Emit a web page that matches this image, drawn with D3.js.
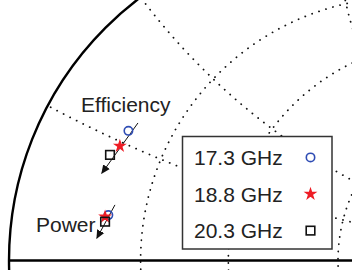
<!DOCTYPE html>
<html><head><meta charset="utf-8">
<script src="https://cdn.jsdelivr.net/npm/d3@7"></script>
<style>
html,body{margin:0;padding:0;background:#fff;overflow:hidden}
svg{display:block}
text{font-family:"Liberation Sans",Arial,Helvetica,sans-serif;fill:#222}
</style></head>
<body>
<script>
// ---- data ----
const resistanceCircles = [0.25, 0.5, 1];
const reactanceCircles = [0.25, 0.5, 1];
const frequencies = ["17.3 GHz", "18.8 GHz", "20.3 GHz"];
const effRe = [-0.637, -0.663, -0.693];
const effIm = [0.394, 0.348, 0.321];
const powRe = [-0.698, -0.708, -0.708];
const powIm = [0.138, 0.133, 0.118];
const effArrowRe = [-0.608, -0.718];
const effArrowIm = [0.418, 0.265];
const powArrowRe = [-0.678, -0.733];
const powArrowIm = [0.169, 0.0675];
const groupLabels = ["Efficiency", "Power"];

const W = 352, H = 270;
const x = d3.scaleLinear().domain([-1, 0]).range([9, 338]);
const y = d3.scaleLinear().domain([0, 1]).range([260.5, -68.5]);
const k = x(0) - x(-1);

const svg = d3.select("body").append("svg").attr("width", W).attr("height", H);
const defs = svg.append("defs");
defs.append("clipPath").attr("id", "unit").append("circle")
  .attr("cx", x(0)).attr("cy", y(0)).attr("r", k);
defs.append("marker").attr("id", "arr").attr("viewBox", "0 0 10 10")
  .attr("refX", 9).attr("refY", 5).attr("markerWidth", 9).attr("markerHeight", 9)
  .attr("markerUnits", "userSpaceOnUse").attr("orient", "auto")
  .append("path").attr("d", "M0,0.5 L10,5 L0,9.5 Z").attr("fill", "#111");

const grid = svg.append("g").attr("clip-path", "url(#unit)")
  .attr("fill", "none").attr("stroke", "#111").attr("stroke-width", 1.8)
  .attr("stroke-dasharray", "0.1,7.2").attr("stroke-linecap", "round");

grid.selectAll("circle.r").data(resistanceCircles).join("circle")
  .attr("class", "r")
  .attr("cx", r => x(r / (1 + r))).attr("cy", y(0)).attr("r", r => k / (1 + r));
grid.selectAll("circle.xp").data(reactanceCircles).join("circle")
  .attr("class", "xp")
  .attr("cx", x(1)).attr("cy", v => y(1 / v)).attr("r", v => k / v);

// unit circle and real axis
svg.append("circle").attr("cx", x(0)).attr("cy", y(0)).attr("r", k)
  .attr("fill", "none").attr("stroke", "#000").attr("stroke-width", 2.4);
svg.append("line").attr("x1", x(-1)).attr("x2", W + 5).attr("y1", y(0)).attr("y2", y(0))
  .attr("stroke", "#000").attr("stroke-width", 2.6);

// arrows
[[effArrowRe, effArrowIm], [powArrowRe, powArrowIm]].forEach(([re, im]) => {
  svg.append("line").attr("x1", x(re[0])).attr("y1", y(im[0]))
    .attr("x2", x(re[1])).attr("y2", y(im[1]))
    .attr("stroke", "#111").attr("stroke-width", 1)
    .attr("marker-end", "url(#arr)");
});

const blue = "#2f4db4", red = "#ee1c25";
const star = d3.symbol().type(d3.symbolStar).size(32);
function drawMarkers(g, i, cx, cy) {
  if (i === 0) g.append("circle").attr("cx", cx).attr("cy", cy).attr("r", 4.2)
    .attr("fill", "none").attr("stroke", blue).attr("stroke-width", 1.6);
  if (i === 1) g.append("path").attr("d", star).attr("transform", `translate(${cx},${cy})`)
    .attr("fill", red).attr("stroke", red).attr("stroke-width", 1.2);
  if (i === 2) g.append("rect").attr("x", cx - 4.3).attr("y", cy - 4.3)
    .attr("width", 8.6).attr("height", 8.6)
    .attr("fill", "none").attr("stroke", "#111").attr("stroke-width", 1.6);
}
const mk = svg.append("g");
[[effRe, effIm], [powRe, powIm]].forEach(([re, im]) => {
  frequencies.forEach((f, i) => drawMarkers(mk, i, x(re[i]), y(im[i])));
});

// labels
svg.append("text").attr("x", 81).attr("y", 112).attr("font-size", 21).text(groupLabels[0]);
svg.append("text").attr("x", 36).attr("y", 231.5).attr("font-size", 21).text(groupLabels[1]);

// legend
const lg = svg.append("g");
lg.append("rect").attr("x", 182.5).attr("y", 136.5).attr("width", 149.5).attr("height", 112.5)
  .attr("fill", "#fff").attr("stroke", "#333").attr("stroke-width", 1.5);
frequencies.forEach((f, i) => {
  const by = 165 + i * 36.6;
  lg.append("text").attr("x", 194).attr("y", by).attr("font-size", 21).text(f);
  drawMarkers(lg, i, 310.5, by - 7.6);
});
</script>
</body></html>
